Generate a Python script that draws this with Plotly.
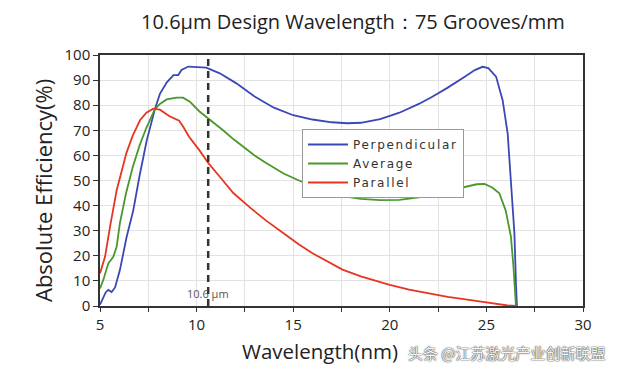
import plotly.graph_objects as go

# Perpendicular
perp_x = [5.0, 5.15, 5.3, 5.43, 5.6, 5.78, 6.03, 6.38, 6.72, 7.05, 7.42, 7.84, 8.1, 8.45, 8.8, 9.05,
          9.22, 9.57, 10.0, 10.5, 11.2, 12.06, 13.0, 14.0, 15.0, 16.0, 17.0, 17.8, 18.5, 19.5, 20.5,
          21.5, 22.2, 23.0, 23.9, 24.4, 24.8, 25.1, 25.5, 25.84, 26.1, 26.27, 26.45, 26.53, 26.58]
perp_y = [0.5, 3, 5.5, 6.4, 5.6, 7.4, 14.3, 27.6, 38, 52, 66, 78.4, 84.5, 89, 92, 92,
          94, 95.4, 95.3, 95, 92.7, 88.7, 83.5, 79, 76, 74.3, 73.2, 72.8, 73, 74.5, 77,
          80.5, 83.4, 87, 91.4, 94, 95.3, 94.8, 91.4, 82, 68.8, 48.9, 29, 9, 0]

# Average
avg_x = [5.0, 5.17, 5.43, 5.69, 5.86, 6.03, 6.35, 6.7, 7.05, 7.4, 7.84, 8.1, 8.45, 8.96, 9.3, 9.65,
         10.15, 10.5, 11.37, 11.9, 13.0, 13.6, 14.5, 15.3, 16.0, 17.0, 17.55, 18.5, 19.5, 20.5,
         21.5, 22.2, 23.0, 23.9, 24.5, 24.9, 25.3, 25.67, 26.0, 26.27, 26.4, 26.53]
avg_y = [7, 10.4, 17, 19.6, 23.6, 33, 45, 55.5, 64, 71, 78.4, 80.5, 82.3, 83, 83, 81.4,
         77.5, 75.4, 70, 66.5, 60, 57, 52.8, 50, 47.8, 45, 43.8, 42.7, 42.2, 42.3,
         43.3, 44.5, 46, 47.6, 48.5, 48.6, 47.2, 44.9, 38, 27.6, 15.7, 0]

# Parallel
par_x = [5.0, 5.26, 5.52, 5.86, 6.37, 6.7, 7.07, 7.4, 7.76, 8.1, 8.6, 8.96, 9.1, 9.3, 9.6, 10.15,
         10.6, 11.2, 11.9, 12.8, 13.6, 14.5, 15.3, 16.0, 17.0, 17.55, 18.5, 19.95, 21.0, 22.2,
         23.0, 24.1, 25.0, 25.6, 26.1, 26.53]
par_y = [13, 19.6, 31.6, 46, 61, 68, 74, 77, 78.6, 78.2, 75.6, 74.2, 73.8, 71.5, 67.5, 62,
         57, 51.5, 45, 39, 34, 29, 24.5, 21, 17, 14.5, 11.8, 8.5, 6.5, 4.6,
         3.6, 2.4, 1.3, 0.6, 0.2, 0]

x_tick_vals = [5, 10, 15, 20, 25, 30]
y_tick_vals = [0, 10, 20, 30, 40, 50, 60, 70, 80, 90, 100]
design_wl = 10.6

BLUE = "rgb(58,72,182)"
GREEN = "rgb(72,152,44)"
RED = "rgb(232,52,34)"

# plot area geometry in pixels (for placing paper-referenced texts)
L, R, T, B = 100, 583, 55, 306


def px_x(px):
    return (px - L) / (R - L)


def px_y(py):
    return (B - py) / (B - T)


def spaced(name):
    return "<span style='letter-spacing:1.7px'>" + name + "</span>"


fig = go.Figure()
fig.add_trace(go.Scatter(x=perp_x, y=perp_y, mode="lines", name=spaced("Perpendicular"),
                         line=dict(color=BLUE, width=1.8)))
fig.add_trace(go.Scatter(x=avg_x, y=avg_y, mode="lines", name=spaced("Average"),
                         line=dict(color=GREEN, width=1.8)))
fig.add_trace(go.Scatter(x=par_x, y=par_y, mode="lines", name=spaced("Parallel"),
                         line=dict(color=RED, width=1.8)))

fig.add_shape(type="line", x0=design_wl, x1=design_wl, y0=0, y1=100, xref="x", yref="y",
              line=dict(color="#333333", width=2.5, dash="7px,5px"))
fig.add_annotation(x=design_wl, y=5, xref="x", yref="y", text="10.6 µm", showarrow=False,
                   xanchor="center", yanchor="middle",
                   font=dict(family="Open Sans", size=11, color="#555555"))

fig.add_annotation(x=px_x(353), y=px_y(22), xref="paper", yref="paper",
                   xanchor="center", yanchor="middle",
                   text="10.6μm Design Wavelength：75 Grooves/mm", showarrow=False,
                   font=dict(family="Open Sans", size=20, color="#222222"))
fig.add_annotation(x=px_x(320), y=px_y(351), xref="paper", yref="paper",
                   xanchor="center", yanchor="middle",
                   text="Wavelength(nm)", showarrow=False,
                   font=dict(family="Open Sans", size=20.5, color="#222222"))
fig.add_annotation(x=px_x(507), y=px_y(352), xref="paper", yref="paper",
                   xanchor="center", yanchor="middle",
                   text="头条 @江苏激光产业创新联盟", showarrow=False,
                   font=dict(family="Noto Sans CJK SC", size=15, color="#f4f4f4",
                             shadow="0px 0px 1.5px #333, 0px 0px 1px #333"))
fig.add_annotation(x=px_x(43), y=px_y(191), xref="paper", yref="paper",
                   xanchor="center", yanchor="middle",
                   text="Absolute Efficiency(%)", showarrow=False, textangle=-90,
                   font=dict(family="Open Sans", size=22, color="#222222"))

fig.update_layout(
    width=620, height=370,
    margin=dict(l=L, r=620 - R, t=T, b=370 - B),
    paper_bgcolor="white", plot_bgcolor="white",
    font=dict(family="Open Sans", color="#222222"),
    showlegend=True,
    legend=dict(x=px_x(302), y=px_y(129), xanchor="left", yanchor="top",
                bgcolor="white", bordercolor="#999999", borderwidth=1,
                font=dict(family="DejaVu Sans", size=12, color="#333333"),
                tracegroupgap=0, itemwidth=40),
    xaxis=dict(range=[5, 30], tickvals=x_tick_vals, showgrid=True, gridcolor="#e2e2e2",
               ticks="outside", ticklen=4, tickcolor="#333", tickfont=dict(size=15),
               showline=True, linecolor="#333333", linewidth=1.5, mirror=True, zeroline=False,
               minor=dict(dtick=2.5, showgrid=True, gridcolor="#e2e2e2", ticks="outside",
                          ticklen=4, tickcolor="#333")),
    yaxis=dict(range=[0, 100], tickvals=y_tick_vals, showgrid=True, gridcolor="#e2e2e2",
               ticks="outside", ticklen=5, tickcolor="#333", tickfont=dict(size=15),
               showline=True, linecolor="#333333", linewidth=1.5, mirror=True, zeroline=False),
)

fig.write_html("out.html", config={"displayModeBar": False},
               post_script="document.body.style.margin='0';")
